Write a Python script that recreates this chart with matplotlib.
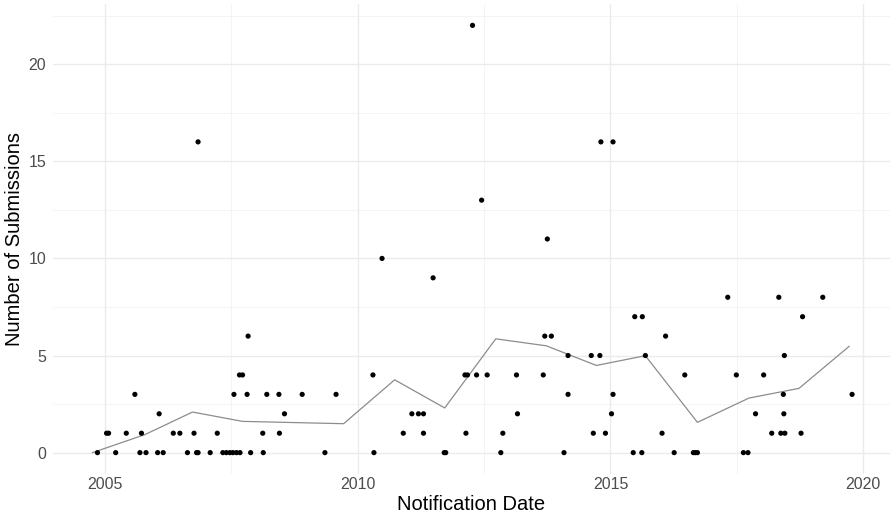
import matplotlib
matplotlib.use("Agg")
import matplotlib.pyplot as plt
from matplotlib.ticker import MultipleLocator, FixedLocator
import numpy as np

# ---- data (decimal notification dates, number of submissions) ----
notification_date = [
    2004.85, 2005.03, 2005.07, 2005.21, 2005.42, 2005.59, 2005.69, 2005.72, 2005.81,
    2006.04, 2006.07, 2006.15, 2006.35, 2006.48, 2006.63, 2006.76, 2006.81, 2006.84, 2006.84,
    2007.08, 2007.22, 2007.33, 2007.40, 2007.47, 2007.53, 2007.55, 2007.60, 2007.66, 2007.67,
    2007.72, 2007.81, 2007.83, 2007.88,
    2008.12, 2008.13, 2008.20, 2008.44, 2008.45, 2008.55, 2008.90,
    2009.35, 2009.57,
    2010.30, 2010.32, 2010.48, 2010.90,
    2011.07, 2011.20, 2011.30, 2011.30, 2011.49, 2011.71, 2011.74,
    2012.12, 2012.14, 2012.17, 2012.27, 2012.35, 2012.45, 2012.56, 2012.83, 2012.87,
    2013.14, 2013.16, 2013.67, 2013.70, 2013.75, 2013.83,
    2014.08, 2014.16, 2014.16, 2014.62, 2014.66, 2014.79, 2014.81, 2014.90,
    2015.02, 2015.05, 2015.05, 2015.45, 2015.48, 2015.62, 2015.63, 2015.69,
    2016.02, 2016.09, 2016.26, 2016.47, 2016.64, 2016.68, 2016.72,
    2017.32, 2017.49, 2017.63, 2017.72, 2017.87,
    2018.03, 2018.19, 2018.33, 2018.37, 2018.42, 2018.43, 2018.44, 2018.45, 2018.77, 2018.80,
    2019.20, 2019.78,
]
submissions = [
    0, 1, 1, 0, 1, 3, 0, 1, 0,
    0, 2, 0, 1, 1, 0, 1, 0, 0, 16,
    0, 1, 0, 0, 0, 0, 3, 0, 4, 0,
    4, 3, 6, 0,
    1, 0, 3, 3, 1, 2, 3,
    0, 3,
    4, 0, 10, 1,
    2, 2, 2, 1, 9, 0, 0,
    4, 1, 4, 22, 4, 13, 4, 0, 1,
    4, 2, 4, 6, 11, 6,
    0, 5, 3, 5, 1, 5, 16, 1,
    2, 3, 16, 0, 7, 0, 7, 5,
    1, 6, 0, 4, 0, 0, 0,
    8, 4, 0, 0, 2,
    4, 1, 8, 1, 3, 2, 5, 1, 1, 7,
    8, 3,
]

# yearly average line
line_date = [2004.75, 2005.79, 2006.73, 2007.72, 2008.71, 2009.72, 2010.73, 2011.72,
             2012.73, 2013.73, 2014.72, 2015.69, 2016.72, 2017.74, 2018.73, 2019.72]
line_mean = [0.0, 0.93, 2.09, 1.61, 1.55, 1.49, 3.75, 2.30,
             5.86, 5.50, 4.49, 4.99, 1.56, 2.81, 3.31, 5.47]

x_ticks = [2005, 2010, 2015, 2020]
x_ticklabels = ["2005", "2010", "2015", "2020"]
y_ticks = [0, 5, 10, 15, 20]
y_ticklabels = ["0", "5", "10", "15", "20"]

plt.rcParams["font.family"] = ["Liberation Sans", "DejaVu Sans"]

fig = plt.figure(figsize=(8.91, 5.19), dpi=100)
ax = fig.add_axes([53 / 891, 1 - 474 / 519, 837 / 891, 470 / 519])

ax.plot(line_date, line_mean, color="#8c8c8c", lw=0.9, zorder=2)
ax.scatter(notification_date, submissions, s=14, color="black", edgecolors="none", zorder=3)

ax.set_xlim(2003.97, 2020.53)
ax.set_ylim(-1.1, 23.1)

ax.xaxis.set_major_locator(FixedLocator(x_ticks))
ax.set_xticklabels(x_ticklabels)
ax.yaxis.set_major_locator(FixedLocator(y_ticks))
ax.set_yticklabels(y_ticklabels)
ax.xaxis.set_minor_locator(MultipleLocator(2.5))
ax.yaxis.set_minor_locator(MultipleLocator(2.5))

ax.grid(which="major", color="#EBEBEB", lw=1.0, zorder=0)
ax.grid(which="minor", color="#F2F2F2", lw=0.6, zorder=0)
ax.set_axisbelow(True)

for s in ax.spines.values():
    s.set_visible(False)
ax.tick_params(which="both", length=0)
ax.tick_params(axis="x", pad=2, labelsize=11.5, labelcolor="#4D4D4D")
ax.tick_params(axis="y", pad=5, labelsize=11.5, labelcolor="#4D4D4D")

ax.set_xlabel("Notification Date", fontsize=14.5, labelpad=2, color="black")
ax.set_ylabel("Number of Submissions", fontsize=14.5, labelpad=3, color="black")

fig.savefig("out.png", dpi=100)
